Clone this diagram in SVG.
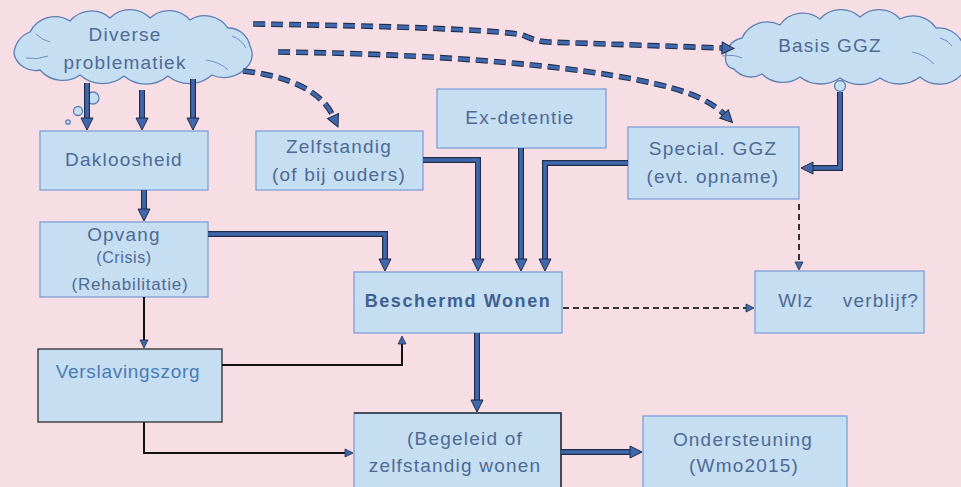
<svg xmlns="http://www.w3.org/2000/svg" width="961" height="487" viewBox="0 0 961 487">
<defs>
<style>
.bg{fill:#f6dee4}
.box{fill:#c6def2;stroke:#7f9ed4;stroke-width:1.3}
.cloud{fill:#c6def2;stroke:#5d7fb3;stroke-width:1.3}
.cin{fill:none;stroke:#6f8fc0;stroke-width:1}
.t{font-family:"Liberation Sans",Arial,sans-serif;font-size:19px;fill:#4f6a94;text-anchor:middle;letter-spacing:1.2px}
.s{font-size:16px;letter-spacing:0.6px}
.r{font-size:17px;letter-spacing:0.8px}
.b{font-weight:bold;font-size:18px;letter-spacing:1.6px;fill:#42608f}
.v{fill:#4c7bb3;letter-spacing:0.7px}
.to{fill:none;stroke:#1f2d48;stroke-width:6}
.ti{fill:none;stroke:#4168ad;stroke-width:3.6}
.do{fill:none;stroke:#1f2d48;stroke-width:5.6;stroke-dasharray:12 6}
.di{fill:none;stroke:#4168ad;stroke-width:3.4;stroke-dasharray:12 6}
.th{fill:none;stroke:#111;stroke-width:2}
.dt{fill:none;stroke:#333;stroke-width:2;stroke-dasharray:6 4}
</style>
<marker id="ah" viewBox="0 0 14 14" refX="1" refY="7" markerWidth="14" markerHeight="14" markerUnits="userSpaceOnUse" orient="auto">
<path d="M1,1 L13,7 L1,13 Z" fill="#4168ad" stroke="#1f2d48" stroke-width="1"/>
</marker>
<marker id="ahs" viewBox="0 0 10 10" refX="1" refY="5" markerWidth="10" markerHeight="10" markerUnits="userSpaceOnUse" orient="auto">
<path d="M1,1 L9,5 L1,9 Z" fill="#4168ad" stroke="#1f2d48" stroke-width="0.8"/>
</marker>
</defs>
<rect class="bg" x="0" y="0" width="961" height="487"/>

<g id="diverse">
<path class="cloud" d="M14,54 A24,24 0 0 1 30,32 A28,28 0 0 1 70,21 A28,28 0 0 1 110,18 A28,28 0 0 1 150,18 A28,28 0 0 1 190,20 A28,28 0 0 1 228,28 A22,22 0 0 1 250,46 A18,18 0 0 1 246,68 A30,30 0 0 1 212,75 A34,34 0 0 1 168,76 A34,34 0 0 1 124,76 A34,34 0 0 1 80,75 A30,30 0 0 1 40,70 A22,22 0 0 1 14,54 Z"/>
<path class="cin" d="M26,58 Q38,60 48,56 M232,36 Q242,40 246,48 M206,60 Q220,62 228,70 M36,34 Q42,40 50,42"/>
<circle class="cloud" cx="93" cy="98" r="6"/>
<circle class="cloud" cx="78" cy="111" r="4.5"/>
<circle class="cloud" cx="68" cy="122" r="2.2"/>
<text class="t" x="125" y="41">Diverse</text>
<text class="t" x="125" y="69">problematiek</text>
</g>

<g id="basis">
<path class="cloud" d="M726,62 A20,20 0 0 1 742,38 A28,28 0 0 1 780,25 A28,28 0 0 1 820,19 A28,28 0 0 1 860,17 A28,28 0 0 1 900,19 A28,28 0 0 1 936,28 A26,26 0 0 1 962,42 L962,74 A30,30 0 0 1 920,77 A34,34 0 0 1 880,78 A34,34 0 0 1 840,78 A34,34 0 0 1 800,77 A30,30 0 0 1 762,74 A22,22 0 0 1 734,69 A10,10 0 0 1 726,62 Z"/>
<path class="cin" d="M722,56 Q734,54 742,58 M912,52 Q924,54 934,64 M940,38 Q948,40 952,46"/>
<circle class="cloud" cx="840" cy="86" r="5.5"/>
<text class="t" x="830" y="52">Basis GGZ</text>
</g>

<g id="dakloosheid">
<rect class="box" x="40" y="131" width="168" height="59"/>
<text class="t" x="124" y="166">Dakloosheid</text>
</g>

<g id="zelfstandig">
<rect class="box" x="256" y="131" width="167" height="59"/>
<text class="t" x="339" y="153">Zelfstandig</text>
<text class="t" x="339" y="181">(of bij ouders)</text>
</g>

<g id="exdetentie">
<rect class="box" x="437" y="89" width="169" height="59"/>
<text class="t" x="520" y="124">Ex-detentie</text>
</g>

<g id="specialggz">
<rect class="box" x="628" y="127" width="171" height="72"/>
<text class="t" x="713" y="155">Special. GGZ</text>
<text class="t" x="713" y="183">(evt. opname)</text>
</g>

<g id="opvang">
<rect class="box" x="40" y="222" width="168" height="75"/>
<text class="t" x="124" y="241">Opvang</text>
<text class="t s" x="124" y="263">(Crisis)</text>
<text class="t r" x="130" y="290">(Rehabilitatie)</text>
</g>

<g id="beschermd">
<rect class="box" x="354" y="272" width="208" height="61"/>
<text class="t b" x="458" y="307">Beschermd Wonen</text>
</g>

<g id="wlz">
<rect class="box" x="755" y="271" width="169" height="62"/>
<text class="t" x="796" y="307">Wlz</text>
<text class="t" x="881" y="307">verblijf?</text>
</g>

<g id="verslavingszorg">
<rect class="box" x="38" y="349" width="184" height="73" style="stroke:#2b2b2b"/>
<text class="t v" x="128" y="378">Verslavingszorg</text>
</g>

<g id="begeleid">
<rect class="box" x="354" y="413" width="207" height="80"/>
<path d="M354,413 H561 V487" fill="none" stroke="#2b2f3a" stroke-width="1.6"/>
<text class="t" x="465" y="445">(Begeleid of</text>
<text class="t" x="455" y="472">zelfstandig wonen</text>
</g>

<g id="ondersteuning">
<rect class="box" x="643" y="416" width="204" height="80"/>
<text class="t" x="743" y="446">Ondersteuning</text>
<text class="t" x="744" y="472">(Wmo2015)</text>
</g>

<g id="connectors">
<path class="do" d="M253,24 C400,26 500,30 522,35 C530,38 535,41 548,42 L722,48"/>
<path class="di" d="M253,24 C400,26 500,30 522,35 C530,38 535,41 548,42 L722,48" marker-end="url(#ah)"/>
<path class="do" d="M278,52 C460,54 640,70 700,98 Q716,106 724,114"/>
<path class="di" d="M278,52 C460,54 640,70 700,98 Q716,106 724,114" marker-end="url(#ah)"/>
<path class="do" d="M243,71 C290,76 322,92 333,116"/>
<path class="di" d="M243,71 C290,76 322,92 333,116" marker-end="url(#ah)"/>

<path class="to" d="M87,83 V118"/><path class="ti" d="M87,83 V118" marker-end="url(#ah)"/>
<path class="to" d="M142,90 V118"/><path class="ti" d="M142,90 V118" marker-end="url(#ah)"/>
<path class="to" d="M193,79 V118"/><path class="ti" d="M193,79 V118" marker-end="url(#ah)"/>
<path class="to" d="M144,190 V209"/><path class="ti" d="M144,190 V209" marker-end="url(#ah)"/>
<path class="to" d="M208,234 H385 V259"/><path class="ti" d="M208,234 H385 V259" marker-end="url(#ah)"/>
<path class="to" d="M423,160 H478 V259"/><path class="ti" d="M423,160 H478 V259" marker-end="url(#ah)"/>
<path class="to" d="M521,148 V259"/><path class="ti" d="M521,148 V259" marker-end="url(#ah)"/>
<path class="to" d="M628,163 H545 V259"/><path class="ti" d="M628,163 H545 V259" marker-end="url(#ah)"/>
<path class="to" d="M840,92 V168 H813"/><path class="ti" d="M840,92 V168 H813" marker-end="url(#ah)"/>
<path class="to" d="M477,333 V400"/><path class="ti" d="M477,333 V400" marker-end="url(#ah)"/>
<path class="to" d="M561,452 H630"/><path class="ti" d="M561,452 H630" marker-end="url(#ah)"/>

<path class="th" d="M144,297 V340" marker-end="url(#ahs)"/>
<path class="th" d="M222,365 H402 V344" marker-end="url(#ahs)"/>
<path class="th" d="M144,422 V453 H345" marker-end="url(#ahs)"/>

<path class="dt" d="M799,204 V262" marker-end="url(#ahs)"/>
<path class="dt" d="M563,308 H746" marker-end="url(#ahs)"/>
</g>
</svg>
